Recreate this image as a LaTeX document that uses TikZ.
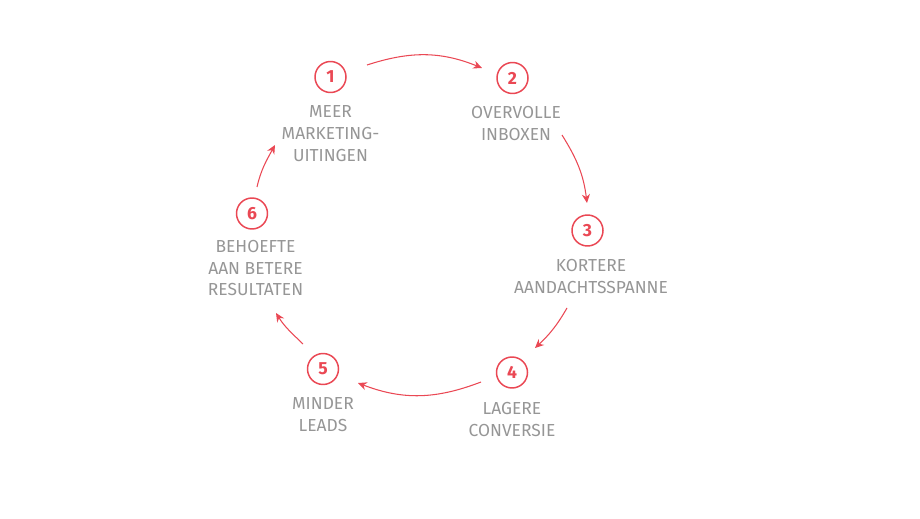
\documentclass[tikz,border=0pt]{standalone}
\usepackage{fontspec}
\setmainfont{Fira Sans}
\usepackage{tikz}
\usetikzlibrary{arrows.meta,positioning}
\definecolor{cycleRed}{RGB}{234,72,84}
\definecolor{labelGray}{RGB}{150,150,150}

\begin{document}
\begin{tikzpicture}[x=0.02cm, y=0.02cm, >={Stealth[length=5pt,width=4.6pt]},
  num/.style={circle, draw=cycleRed, line width=0.85pt, minimum size=0.62cm, inner sep=0pt,
    text=cycleRed, font=\bfseries\fontsize{10}{12}\selectfont},
  lbl/.style={text=labelGray, align=center, inner sep=0pt, font=\fontsize{9.9}{12.4}\selectfont},
  flow/.style={->, cycleRed, line width=0.6pt}]
  \useasboundingbox (0,0) rectangle (920,518);

  % Steps
  \node[num] (c1) at (330.5,441) {1};
  \node[num] (c2) at (512.5,440) {2};
  \node[num] (c3) at (587.5,287.5) {3};
  \node[num] (c4) at (512,145.5) {4};
  \node[num] (c5) at (323,149) {5};
  \node[num] (c6) at (252,304.5) {6};

  % Labels
  \node[lbl, below=0.24cm of c1, anchor=north] (t1) {MEER\\MARKETING-\\UITINGEN};
  \node[lbl, below=0.24cm of c2, anchor=north, xshift=2pt] (t2) {OVERVOLLE\\INBOXEN};
  \node[lbl, below=0.24cm of c3, anchor=north, xshift=2pt] (t3) {KORTERE\\AANDACHTSSPANNE};
  \node[lbl, below=0.26cm of c4, anchor=north] (t4) {LAGERE\\CONVERSIE};
  \node[lbl, below=0.24cm of c5, anchor=north] (t5) {MINDER\\LEADS};
  \node[lbl, below=0.2cm of c6, anchor=north, xshift=2pt] (t6) {BEHOEFTE\\AAN BETERE\\RESULTATEN};

  % Arrow ends on the ring
  \coordinate (s12) at (367,453); \coordinate (e12) at (482,450);
  \coordinate (s23) at (562,383); \coordinate (e23) at (587,315);
  \coordinate (s34) at (567,210); \coordinate (e34) at (535,170);
  \coordinate (s45) at (481,136); \coordinate (e45) at (358,135);
  \coordinate (s56) at (303,174); \coordinate (e56) at (276,205);
  \coordinate (s61) at (257,331); \coordinate (e61) at (275,373);

  % Cycle
  \draw[flow] (s12) to[out=18, in=158] (e12);
  \draw[flow] (s23) to[out=-58, in=97] (e23);
  \draw[flow] (s34) to[out=-120, in=43] (e34);
  \draw[flow] (s45) to[out=-159, in=-21] (e45);
  \draw[flow] (s56) to[out=136, in=-58] (e56);
  \draw[flow] (s61) to[out=77, in=241] (e61);
\end{tikzpicture}
\end{document}
